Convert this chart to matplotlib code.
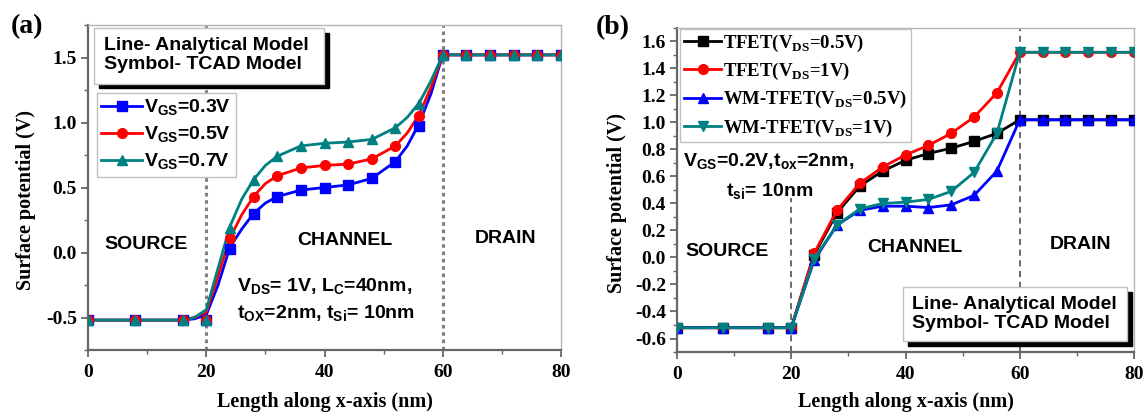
import matplotlib
matplotlib.use('Agg')
import matplotlib.pyplot as plt
from matplotlib.patches import Rectangle
from matplotlib.ticker import MultipleLocator

plt.rcParams['font.family'] = ['Liberation Serif', 'DejaVu Serif']
plt.rcParams['font.weight'] = 'bold'
plt.rcParams['axes.unicode_minus'] = False
plt.rcParams['mathtext.fontset'] = 'custom'
plt.rcParams['mathtext.rm'] = 'Liberation Serif:bold'
plt.rcParams['mathtext.bf'] = 'Liberation Serif:bold'
plt.rcParams['mathtext.sf'] = 'Liberation Sans:bold'

# ---- panel (a): analytical model lines ----
xa_line = [0, 16, 18, 20, 22, 24, 26, 28, 30, 32, 36, 40, 44, 48, 52, 54, 56, 58, 60, 80]
ya_line_03 = [-0.52, -0.52, -0.51, -0.48, -0.25, 0.04, 0.18, 0.30, 0.38, 0.43, 0.48, 0.50, 0.52, 0.57, 0.70, 0.82, 0.99, 1.22, 1.52, 1.52]
ya_line_05 = [-0.52, -0.52, -0.50, -0.46, -0.18, 0.11, 0.29, 0.43, 0.53, 0.59, 0.65, 0.67, 0.68, 0.72, 0.82, 0.92, 1.06, 1.27, 1.52, 1.52]
ya_line_07 = [-0.52, -0.52, -0.50, -0.44, -0.12, 0.20, 0.41, 0.56, 0.67, 0.74, 0.82, 0.84, 0.85, 0.87, 0.96, 1.04, 1.15, 1.32, 1.52, 1.52]

# ---- panel (a): TCAD symbols ----
x_tcad = [0, 8, 16, 20, 24, 28, 32, 36, 40, 44, 48, 52, 56, 60, 64, 68, 72, 76, 80]
ya_tcad_03 = [-0.52, -0.52, -0.52, -0.52, 0.03, 0.30, 0.43, 0.48, 0.50, 0.52, 0.57, 0.70, 0.97, 1.52, 1.52, 1.52, 1.52, 1.52, 1.52]
ya_tcad_05 = [-0.52, -0.52, -0.52, -0.52, 0.11, 0.43, 0.59, 0.65, 0.67, 0.68, 0.72, 0.82, 1.05, 1.52, 1.52, 1.52, 1.52, 1.52, 1.52]
ya_tcad_07 = [-0.52, -0.52, -0.52, -0.52, 0.19, 0.56, 0.74, 0.82, 0.84, 0.85, 0.87, 0.96, 1.14, 1.52, 1.52, 1.52, 1.52, 1.52, 1.52]
labels_a = [r'V$_\mathsf{GS}$=0.3V', r'V$_\mathsf{GS}$=0.5V', r'V$_\mathsf{GS}$=0.7V']

# ---- panel (b) ----
yb_tfet_05 = [-0.52, -0.52, -0.52, -0.52, 0.02, 0.33, 0.53, 0.64, 0.72, 0.77, 0.81, 0.86, 0.92, 1.02, 1.02, 1.02, 1.02, 1.02, 1.02]
yb_tfet_1 = [-0.52, -0.52, -0.52, -0.52, 0.03, 0.35, 0.55, 0.67, 0.76, 0.83, 0.92, 1.04, 1.22, 1.52, 1.52, 1.52, 1.52, 1.52, 1.52]
yb_wm_05 = [-0.52, -0.52, -0.52, -0.52, -0.02, 0.24, 0.35, 0.38, 0.38, 0.37, 0.39, 0.46, 0.64, 1.02, 1.02, 1.02, 1.02, 1.02, 1.02]
yb_wm_1 = [-0.52, -0.52, -0.52, -0.52, -0.01, 0.24, 0.36, 0.40, 0.41, 0.43, 0.49, 0.63, 0.92, 1.52, 1.52, 1.52, 1.52, 1.52, 1.52]
labels_b = [r'TFET(V$_\mathbf{DS}$=0.5V)', r'TFET(V$_\mathbf{DS}$=1V)',
            r'WM-TFET(V$_\mathbf{DS}$=0.5V)', r'WM-TFET(V$_\mathbf{DS}$=1V)']

BLUE, RED, TEAL, BLACK = '#0000ff', '#ff0000', '#008080', '#000000'
SANS = 'Liberation Sans'


def style_axes(ax, ymin, ymax, ymajor, yminor, xlab_y, ylab_x):
    ax.set_xlim(0, 80)
    ax.set_ylim(ymin, ymax)
    ax.xaxis.set_major_locator(MultipleLocator(20))
    ax.xaxis.set_minor_locator(MultipleLocator(10))
    ax.yaxis.set_major_locator(MultipleLocator(ymajor))
    ax.yaxis.set_minor_locator(MultipleLocator(yminor))
    for side in ['left', 'bottom']:
        ax.spines[side].set_color('#666666')
        ax.spines[side].set_linewidth(1.6)
    for side in ['top', 'right']:
        ax.spines[side].set_color('#b5b5b5')
        ax.spines[side].set_linewidth(1.0)
    ax.tick_params(which='major', direction='out', length=5, width=1.3, color='#666666', labelsize=14)
    ax.tick_params(which='minor', direction='out', length=3, width=1.0, color='#666666')
    ax.tick_params(axis='x', pad=5)
    ax.tick_params(axis='y', pad=3)
    ax.set_xlabel('Length along x-axis (nm)', fontsize=14.5, fontweight='bold')
    ax.set_ylabel('Surface potential (V)', fontsize=14.5, fontweight='bold')
    ax.xaxis.set_label_coords(0.5, xlab_y)
    ax.yaxis.set_label_coords(ylab_x, 0.46)


def shadow_box(ax, x0, y0, x1, y1, dx, dy, text, tx, ty, spacing):
    ax.add_patch(Rectangle((x0 + dx, y0 - dy), x1 - x0, y1 - y0, transform=ax.transAxes,
                           facecolor='black', edgecolor='black', zorder=8, clip_on=False))
    ax.add_patch(Rectangle((x0, y0), x1 - x0, y1 - y0, transform=ax.transAxes,
                           facecolor='white', edgecolor='#c0c0c0', lw=1, zorder=9, clip_on=False))
    ax.text(tx, ty, text, transform=ax.transAxes, family=SANS, fontweight='bold',
            fontsize=14, va='center', ha='left', linespacing=spacing, zorder=10)


fig = plt.figure(figsize=(11.45, 4.17), dpi=100)
ax1 = fig.add_axes([88 / 1145, 1 - 350 / 417, 473 / 1145, 325 / 417])
ax2 = fig.add_axes([677 / 1145, 1 - 352 / 417, 457 / 1145, 324 / 417])

# ---------------- (a) ----------------
style_axes(ax1, -0.75, 1.75, 0.5, 0.25, -0.128, -0.11)
ax1.axvline(20, color='#808080', lw=2.2, ls=(0, (1.2, 1.2)), zorder=1)
ax1.axvline(60, color='#808080', lw=2.2, ls=(0, (1.2, 1.2)), zorder=1)
handles_a = []
for yl, yt, c, m in [(ya_line_03, ya_tcad_03, BLUE, 's'),
                     (ya_line_05, ya_tcad_05, RED, 'o'),
                     (ya_line_07, ya_tcad_07, TEAL, '^')]:
    ln, = ax1.plot(xa_line, yl, color=c, lw=2, zorder=3)
    mk, = ax1.plot(x_tcad, yt, ls='none', marker=m, ms=7, color=c, zorder=4)
    handles_a.append((ln, mk))
leg = ax1.legend(handles_a, labels_a, loc='upper left', bbox_to_anchor=(0.018, 0.79),
                 borderaxespad=0, prop={'family': SANS, 'weight': 'bold', 'size': 14},
                 handlelength=2.1, handletextpad=0.1, labelspacing=0.33, borderpad=0.25,
                 fancybox=False, edgecolor='#c0c0c0', framealpha=1)
leg.get_frame().set_linewidth(1)
leg.set_zorder(6)
shadow_box(ax1, 0.013, 0.82, 0.499, 0.99, 0.011, 0.015,
           'Line- Analytical Model\nSymbol- TCAD Model', 0.034, 0.908, 1.2)
txt = dict(family=SANS, fontweight='bold', fontsize=14)
ax1.text(9.8, 0.03, 'SOURCE', ha='center', va='baseline', **txt)
ax1.text(43.5, 0.055, 'CHANNEL', ha='center', va='baseline', **txt)
ax1.text(70.6, 0.07, 'DRAIN', ha='center', va='baseline', **txt)
ax1.text(25.2, -0.30, r'V$_\mathsf{DS}$= 1V, L$_\mathsf{C}$=40nm,', ha='left', va='baseline', **txt)
ax1.text(25.2, -0.51, r't$_\mathsf{OX}$=2nm, t$_\mathsf{Si}$= 10nm', ha='left', va='baseline', **txt)

# ---------------- (b) ----------------
style_axes(ax2, -0.7, 1.7, 0.2, 0.1, -0.122, -0.109)
ax2.vlines(20, -0.7, 0.44, color='#404040', lw=1.1, ls=(0, (4, 3)), zorder=1)
ax2.axvline(60, color='#404040', lw=1.1, ls=(0, (4, 3)), zorder=1)
handles_b = []
for yb, c, m in [(yb_tfet_05, BLACK, 's'), (yb_tfet_1, RED, 'o'),
                 (yb_wm_05, BLUE, '^'), (yb_wm_1, TEAL, 'v')]:
    ln, = ax2.plot(x_tcad, yb, color=c, lw=2, marker=m, ms=7, zorder=3)
    handles_b.append(ln)
leg2 = ax2.legend(handles_b, labels_b, loc='upper left', bbox_to_anchor=(0.007, 0.997),
                  borderaxespad=0, prop={'family': 'Liberation Serif', 'weight': 'bold', 'size': 13.5},
                  handlelength=2.0, handletextpad=0.1, labelspacing=0.38, borderpad=0.2,
                  fancybox=False, edgecolor='#c0c0c0', framealpha=1)
leg2.get_frame().set_linewidth(1)
leg2.set_zorder(6)
shadow_box(ax2, 0.495, 0.034, 0.985, 0.20, 0.011, 0.015,
           'Line- Analytical Model\nSymbol- TCAD Model', 0.514, 0.117, 1.1)
ax2.text(8.8, 0.01, 'SOURCE', ha='center', va='baseline', **txt)
ax2.text(41.7, 0.04, 'CHANNEL', ha='center', va='baseline', **txt)
ax2.text(70.6, 0.06, 'DRAIN', ha='center', va='baseline', **txt)
ax2.text(1.05, 0.67, r'V$_\mathsf{GS}$=0.2V,t$_\mathsf{ox}$=2nm,', ha='left', va='baseline', **txt)
ax2.text(8.6, 0.45, r't$_\mathsf{si}$= 10nm', ha='left', va='baseline', **txt)

fig.text(27 / 1145, 1 - 27 / 417, '(a)', ha='center', va='center', fontsize=20, fontweight='bold')
fig.text(613 / 1145, 1 - 28 / 417, '(b)', ha='center', va='center', fontsize=20, fontweight='bold')

fig.savefig('out.png', dpi=100)
